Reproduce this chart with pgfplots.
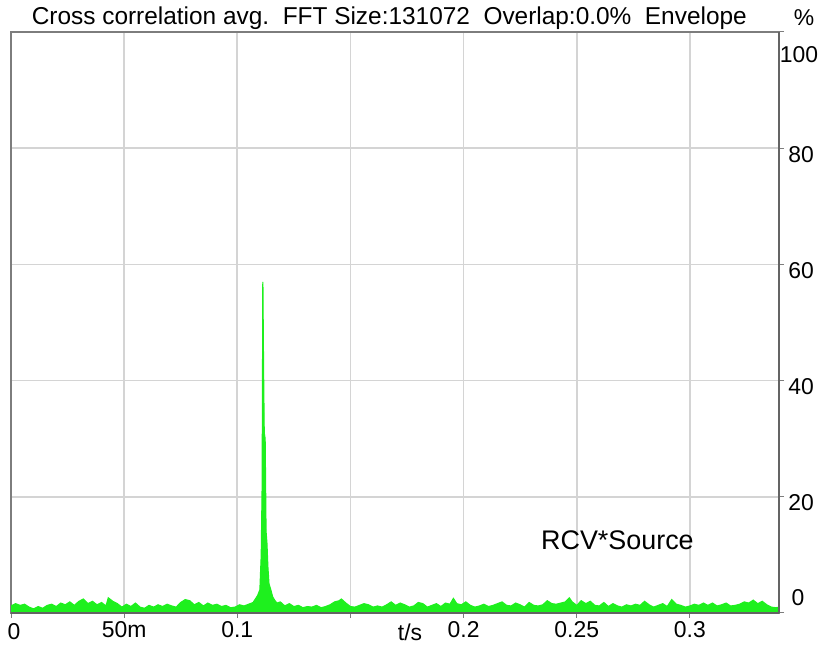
\documentclass[border=0pt]{standalone}
\usepackage{fontspec}
\setmainfont{Liberation Sans}
\usepackage{pgfplots}
\pgfplotsset{compat=1.18}
\definecolor{sig}{RGB}{30,240,30}
\definecolor{gridc}{RGB}{212,212,212}
\definecolor{framec}{RGB}{125,125,125}
\definecolor{framed}{RGB}{100,100,100}
\begin{document}
\fontsize{23}{26}\selectfont
\begin{tikzpicture}[x=1bp,y=1bp]
\path[use as bounding box] (0,0) rectangle (836,650);
\begin{axis}[
  at={(11bp,37bp)}, anchor=south west,
  scale only axis, width=768bp, height=581bp,
  xmin=0, xmax=0.3394, ymin=0, ymax=100,
  xtick={0,0.05,0.1,0.15,0.2,0.25,0.3},
  xticklabels={,50m,0.1,,0.2,0.25,0.3},
  ytick={0,20,40,60,80,100},
  yticklabels={,20,40,60,80,},
  xtick pos=bottom, ytick pos=right, yticklabel pos=right,
  tick align=outside, major tick length=5bp,
  tick style={framec, line width=1bp},
  grid=major, major grid style={gridc, line width=1.6bp},
  axis line style={framec, line width=1.2bp},
  xticklabel style={font=\fontsize{23}{26}\selectfont, anchor=center, yshift=-12bp},
  yticklabel style={font=\fontsize{23}{26}\selectfont, anchor=center, xshift=17bp, yshift=-6bp},
  scaled x ticks=false,
  clip mode=individual,
]
\addplot[draw=sig, fill=sig, line width=1.2bp] coordinates {
(0.000,1.2)(0.002,1.6)(0.004,1.3)(0.006,1.5)(0.008,1.0)(0.010,0.7)(0.012,1.1)(0.014,0.8)
(0.016,1.3)(0.018,1.5)(0.020,1.1)(0.022,1.7)(0.024,1.4)(0.026,1.9)(0.028,1.3)(0.030,2.0)
(0.032,2.4)(0.034,1.6)(0.036,2.0)(0.038,1.4)(0.040,1.8)(0.042,1.2)(0.043,2.6)(0.045,2.0)
(0.047,1.6)(0.049,1.0)(0.051,1.5)(0.053,1.1)(0.055,1.7)(0.057,1.0)(0.059,0.8)(0.061,1.3)
(0.063,1.0)(0.065,1.4)(0.067,1.1)(0.069,1.5)(0.071,1.2)(0.073,1.0)(0.075,1.8)(0.077,2.3)
(0.079,2.1)(0.081,1.4)(0.083,1.8)(0.085,1.2)(0.087,1.7)(0.089,1.3)(0.091,1.5)(0.093,1.1)
(0.095,1.3)(0.097,0.9)(0.099,1.0)(0.101,1.4)(0.103,1.2)(0.105,1.5)(0.107,1.8)(0.108,2.4)
(0.109,3.0)(0.1100,4.0)(0.1106,10)(0.1110,22)(0.1113,57)(0.1116,42)(0.1119,31)(0.1123,30)
(0.1127,14)(0.1131,12)(0.1135,8)(0.1140,5)(0.1148,4)(0.1156,2.8)(0.1165,2.2)(0.1175,1.7)
(0.119,1.9)(0.121,1.2)(0.123,1.6)(0.125,1.1)(0.127,1.3)(0.129,0.9)(0.131,1.1)(0.133,1.0)
(0.135,1.3)(0.137,0.9)(0.139,1.1)(0.141,1.4)(0.143,1.9)(0.145,2.1)(0.146,2.4)(0.148,1.7)
(0.150,1.1)(0.152,1.0)(0.154,1.3)(0.156,1.6)(0.158,1.4)(0.160,1.0)(0.162,1.2)(0.164,1.0)
(0.166,1.4)(0.168,1.9)(0.170,1.3)(0.172,1.7)(0.174,1.4)(0.176,1.0)(0.178,1.2)(0.180,1.8)
(0.182,1.6)(0.184,1.0)(0.186,1.3)(0.188,1.6)(0.190,1.1)(0.192,1.7)(0.194,1.5)(0.1955,2.5)
(0.197,1.6)(0.199,1.4)(0.201,1.9)(0.203,1.3)(0.205,1.0)(0.207,1.2)(0.209,1.5)(0.211,1.1)
(0.213,1.3)(0.215,1.6)(0.217,1.9)(0.219,1.3)(0.221,1.2)(0.223,1.7)(0.225,1.4)(0.227,1.0)
(0.229,1.8)(0.231,1.3)(0.233,1.2)(0.235,1.4)(0.237,2.1)(0.239,1.6)(0.241,1.5)(0.243,1.7)
(0.245,1.9)(0.2467,2.6)(0.248,1.9)(0.250,1.3)(0.252,2.1)(0.254,1.6)(0.256,2.0)(0.258,1.3)
(0.260,1.2)(0.262,1.8)(0.264,1.1)(0.266,1.6)(0.268,1.2)(0.270,1.0)(0.272,1.4)(0.274,1.2)
(0.276,1.5)(0.278,1.3)(0.280,2.0)(0.282,1.4)(0.284,1.0)(0.286,1.3)(0.288,1.6)(0.290,1.1)
(0.292,2.3)(0.294,1.5)(0.296,1.3)(0.298,1.0)(0.300,1.2)(0.302,1.5)(0.304,1.3)(0.306,1.7)
(0.308,1.3)(0.310,1.7)(0.312,1.2)(0.314,1.4)(0.316,1.7)(0.318,1.2)(0.320,1.3)(0.322,1.5)
(0.324,1.9)(0.326,1.7)(0.328,2.2)(0.330,1.6)(0.332,2.0)(0.334,1.4)(0.336,1.0)(0.338,0.9)
(0.3394,1.0)
} \closedcycle;
\node[anchor=center, font=\fontsize{27}{30}\selectfont] at (axis cs:0.268,12.5) {RCV*Source};
\draw[framed, line width=2.2bp] (rel axis cs:1,0) -- (rel axis cs:1,1);
\draw[framed, line width=1.6bp] (rel axis cs:0,0) -- (rel axis cs:1,0);
\end{axis}
\node[anchor=west, font=\fontsize{24.5}{27}\selectfont] at (24,632) {Cross correlation avg.\ \ FFT Size:131072\ \ Overlap:0.0\%\ \ Envelope};
\node[anchor=center] at (804,632) {\%};
\node[anchor=center] at (799,595) {100};
\node[anchor=center] at (798,52) {0};
\node[anchor=center] at (14,18) {0};
\node[anchor=center] at (410,18) {t/s};
\end{tikzpicture}
\end{document}
